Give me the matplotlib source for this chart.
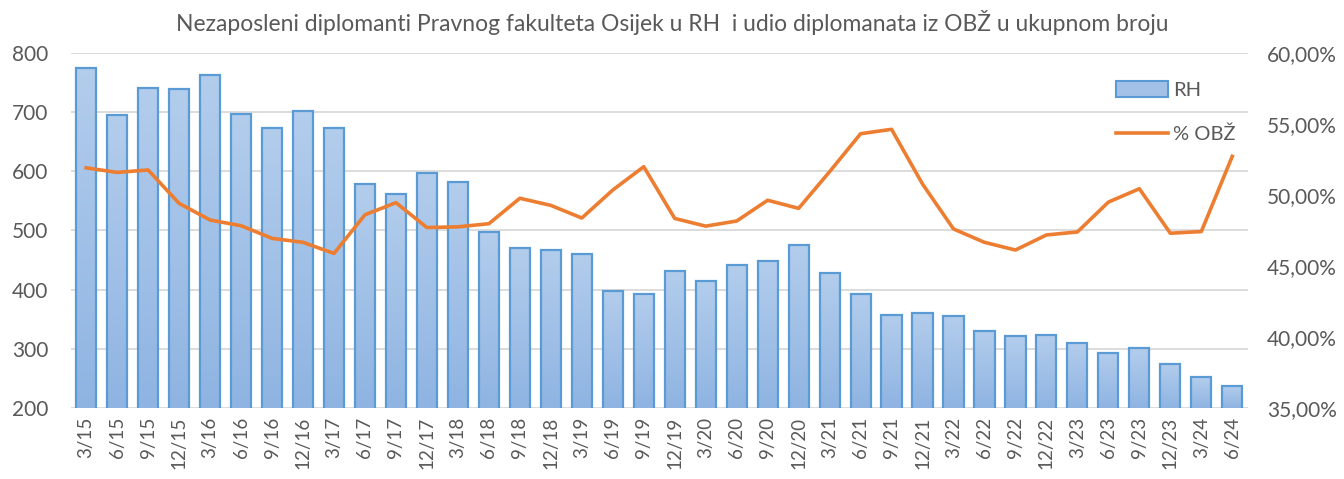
import numpy as np
import matplotlib
matplotlib.use('Agg')
import matplotlib.pyplot as plt
import matplotlib.ticker as ticker
from matplotlib.patches import Patch
from matplotlib.lines import Line2D

# ---------------------------------------------------------------
# data
# ---------------------------------------------------------------
quarters = ['3/15', '6/15', '9/15', '12/15',
            '3/16', '6/16', '9/16', '12/16',
            '3/17', '6/17', '9/17', '12/17',
            '3/18', '6/18', '9/18', '12/18',
            '3/19', '6/19', '9/19', '12/19',
            '3/20', '6/20', '9/20', '12/20',
            '3/21', '6/21', '9/21', '12/21',
            '3/22', '6/22', '9/22', '12/22',
            '3/23', '6/23', '9/23', '12/23',
            '3/24', '6/24']

rh = [774, 694, 740, 738,
      763, 696, 673, 701,
      673, 578, 562, 597,
      581, 498, 470, 467,
      461, 398, 393, 432,
      414, 441, 449, 475,
      428, 393, 357, 361,
      355, 330, 321, 324,
      310, 293, 301, 275,
      252, 238]

obz_pct = [51.90, 51.58, 51.75, 49.40,
           48.23, 47.83, 46.94, 46.66,
           45.88, 48.60, 49.45, 47.70,
           47.75, 47.97, 49.76, 49.26,
           48.37, 50.34, 51.98, 48.34,
           47.80, 48.16, 49.62, 49.05,
           51.63, 54.30, 54.61, 50.76,
           47.60, 46.66, 46.12, 47.18,
           47.39, 49.49, 50.43, 47.30,
           47.42, 52.71]

title = "Nezaposleni diplomanti Pravnog fakulteta Osijek u RH  i udio diplomanata iz OBŽ u ukupnom broju"

grey = '#595959'
bar_edge = '#5b9bd5'
line_col = '#ed7d31'

plt.rcParams['font.family'] = ['Lato', 'DejaVu Sans']

fig = plt.figure(figsize=(13.44, 4.79), dpi=100)
ax1 = fig.add_axes([0.0526, 0.148, 0.8758, 0.742])

x = np.arange(len(quarters))
bars = ax1.bar(x, rh, 0.65, facecolor='none', edgecolor=bar_edge,
               linewidth=1.6, zorder=3)

# gradient fill clipped to each bar
grad = np.linspace(0, 1, 256).reshape(-1, 1)
cmap = matplotlib.colors.LinearSegmentedColormap.from_list(
    'bluegrad', ['#8fb4e2', '#b3cdec'])
for b in bars:
    x0, y0 = b.get_x(), b.get_y()
    w, h = b.get_width(), b.get_height()
    im = ax1.imshow(grad, extent=[x0, x0 + w, 200, y0 + h], origin='lower',
                    cmap=cmap, aspect='auto', zorder=2)
    im.set_clip_path(b)

ax1.set_xlim(-0.5, len(quarters) - 0.5)
ax1.set_ylim(200, 800)
ax1.yaxis.set_major_locator(ticker.MultipleLocator(100))
ax1.grid(axis='y', color='#d9d9d9', linewidth=1.3, zorder=0)
ax1.set_axisbelow(True)
ax1.set_xticks(x)
ax1.set_xticklabels(quarters, rotation=90, fontsize=13.5, color=grey)
ax1.tick_params(axis='y', labelsize=15, colors=grey, length=0, pad=16)
ax1.tick_params(axis='x', length=0, pad=6)
for s in ['top', 'left', 'right', 'bottom']:
    ax1.spines[s].set_visible(False)

ax2 = ax1.twinx()
ax2.plot(x, obz_pct, color=line_col, linewidth=2.6, zorder=4)
ax2.set_ylim(35, 60)
ax2.yaxis.set_major_locator(ticker.MultipleLocator(5))
ax2.yaxis.set_major_formatter(
    ticker.FuncFormatter(lambda v, p: ('%.2f%%' % v).replace('.', ',')))
ax2.tick_params(axis='y', labelsize=15, colors=grey, length=0, pad=14)
for s in ['top', 'left', 'right', 'bottom']:
    ax2.spines[s].set_visible(False)

fig.text(0.5, 0.953, title, ha='center', va='center', fontsize=16.5,
         color=grey)

handles = [Patch(facecolor='#a3c1e7', edgecolor=bar_edge, linewidth=1.5),
           Line2D([0], [0], color=line_col, linewidth=2.6)]
leg = ax2.legend(handles, ['RH', '% OBŽ'], loc='upper right',
                 bbox_to_anchor=(1.005, 0.97), frameon=False, fontsize=14.5,
                 handlelength=2.6, handleheight=0.8, labelspacing=1.3,
                 handletextpad=0.25)
for t in leg.get_texts():
    t.set_color(grey)

fig.savefig('out.png', dpi=100)
plt.close(fig)
